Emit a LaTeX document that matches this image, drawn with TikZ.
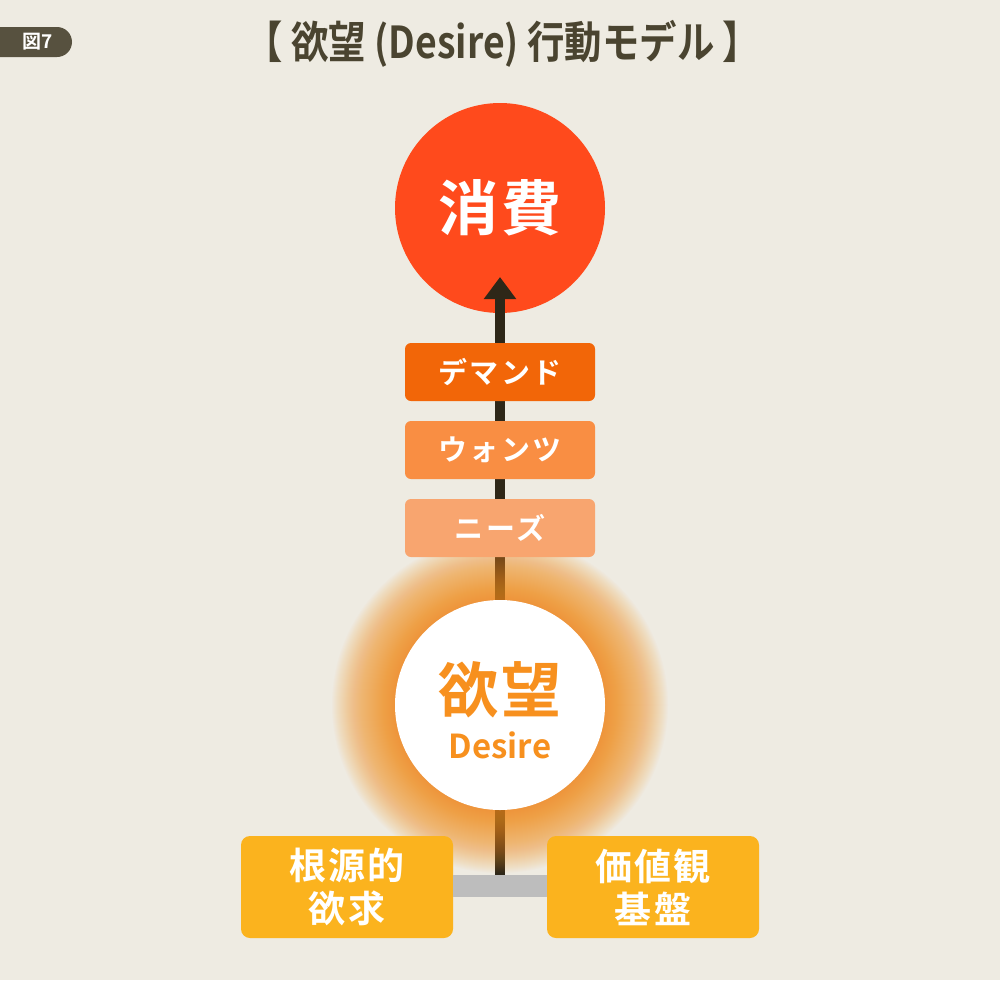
\documentclass[tikz,border=0pt]{standalone}
\usepackage{fontspec}
\setmainfont{Noto Sans CJK JP}[BoldFont={Noto Sans CJK JP Bold}]
\newfontfamily\titlefont{Noto Sans CJK JP Bold}
\newfontfamily\spacedbold[LetterSpace=8]{Noto Sans CJK JP Bold}
\newfontfamily\widebold[LetterSpace=6]{Noto Sans CJK JP Bold}
\usetikzlibrary{arrows.meta}
\definecolor{bg}{HTML}{EEEBE2}
\definecolor{tagcol}{HTML}{57513F}
\definecolor{titlecol}{HTML}{4A4430}
\definecolor{redc}{HTML}{FF4A1C}
\definecolor{stem}{HTML}{2E2718}
\definecolor{demc}{HTML}{F26608}
\definecolor{wantc}{HTML}{F98E43}
\definecolor{needc}{HTML}{F8A56F}
\definecolor{desc}{HTML}{F7901E}
\definecolor{glowc}{HTML}{F7941D}
\definecolor{basec}{HTML}{FBB31E}
\definecolor{barc}{HTML}{BDBDBD}
\tikzset{
  stagebox/.style={rounded corners=6pt, minimum width=190pt, minimum height=58pt, inner sep=0pt,
    text=white, font=\spacedbold\fontsize{29}{29}\selectfont},
  basebox/.style={fill=basec, rounded corners=9pt, minimum width=212pt, minimum height=102pt, inner sep=0pt,
    text=white, align=center, font=\widebold\fontsize{37}{43}\selectfont},
  bigcircle/.style={circle, minimum size=210pt, inner sep=0pt},
}
\begin{document}
\begin{tikzpicture}[x=1pt,y=-1pt]
\useasboundingbox (0,0) rectangle (1000,980);
\fill[bg] (0,0) rectangle (1000,980);
% tag
\begin{scope}
\clip (0,0) rectangle (1000,980);
\node[fill=tagcol, rounded corners=15pt, minimum width=100pt, minimum height=30pt, inner sep=0pt] (tag) at (22,42) {};
\end{scope}
\node[text=white, font=\bfseries\fontsize{19}{19}\selectfont] (tagtext) at (38,42) {図7};
% title
\node[text=titlecol, font=\titlefont\fontsize{44}{44}\selectfont, xscale=0.85] (title) at (503,44) {【 欲望 (Desire) 行動モデル 】};
% consumption circle
\node[bigcircle, fill=redc, text=white, font=\widebold\fontsize{60}{60}\selectfont] (cons) at (500,208) {消費};
% desire circle position
\coordinate (dc) at (500,705);
\coordinate (tip) at (500,277);
\coordinate (bartop) at (500,876);
% stem and arrow
\draw[stem, line width=10pt] (500,600) -- (bartop);
\draw[stem, line width=10pt, -{Triangle[width=31pt,length=22pt]}] (500,610) -- (tip);
% glow
\foreach \r in {0,...,64}{
  \fill[glowc, opacity=0.024] (dc) circle ({104+\r});
}
\node[bigcircle, fill=white] (desire) at (dc) {};
\node[text=desc, font=\widebold\fontsize{60}{60}\selectfont] (desk) at (500,690) {欲望};
\node[text=desc, font=\bfseries\fontsize{33}{33}\selectfont] (dese) at (500,745) {Desire};
% stage boxes
\node[stagebox, fill=demc] (dem) at (500,372) {デマンド};
\node[stagebox, fill=wantc] (want) at (500,450) {ウォンツ};
\node[stagebox, fill=needc] (need) at (500,528) {ニーズ};
% base boxes
\node[basebox] (root) at (347,887) {根源的\\欲求};
\node[basebox] (val) at (653,887) {価値観\\基盤};
\fill[barc] (root.east |- 0,875) rectangle (val.west |- 0,897);
\end{tikzpicture}
\end{document}
